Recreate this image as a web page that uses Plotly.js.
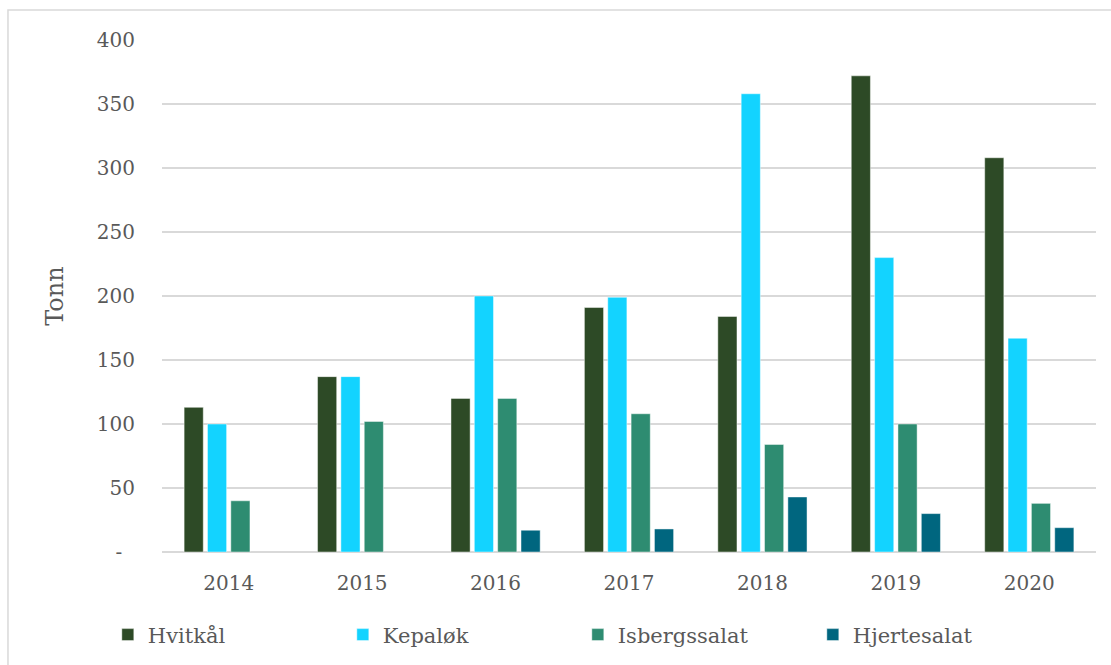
<!DOCTYPE html>
<html>
<head>
<meta charset="utf-8">
<script src="https://cdn.plot.ly/plotly-3.0.1.min.js"></script>
<style>
  html, body { margin: 0; padding: 0; background: #ffffff; }
  #chart { width: 1111px; height: 665px; }
</style>
</head>
<body>
<div id="chart"></div>
<script>
const years = ["2014", "2015", "2016", "2017", "2018", "2019", "2020"];
const hvitkal = [113, 137, 120, 191, 184, 372, 308];
const kepalok = [100, 137, 200, 199, 358, 230, 167];
const isbergssalat = [40, 102, 120, 108, 84, 100, 38];
const hjertesalat = [null, null, 17, 18, 43, 30, 19];
const seriesNames = ["Hvitkål", "Kepaløk", "Isbergssalat", "Hjertesalat"];
const seriesColors = ["#2d4a26", "#13d3ff", "#2e8c71", "#00667f"];
const yTickVals = [0, 50, 100, 150, 200, 250, 300, 350, 400];
const yTickText = ["-\u00a0\u00a0", "50", "100", "150", "200", "250", "300", "350", "400"];

const FONT = "DejaVu Serif, Georgia, serif";
const TXT = "#595959";

const seriesData = [hvitkal, kepalok, isbergssalat, hjertesalat];
const traces = seriesData.map((vals, i) => ({
  type: "bar",
  name: seriesNames[i],
  x: years,
  y: vals,
  marker: { color: seriesColors[i], line: { color: "rgba(255,255,255,0.45)", width: 1 } },
  hoverinfo: "x+y+name"
}));

const layout = {
  width: 1111,
  height: 665,
  margin: { l: 162, r: 15, t: 40, b: 113, autoexpand: false },
  paper_bgcolor: "#ffffff",
  plot_bgcolor: "#ffffff",
  font: { family: FONT, color: TXT, size: 20 },
  barmode: "group",
  bargap: 0.3,
  bargroupgap: 0.18,
  showlegend: true,
  legend: {
    orientation: "h",
    x: -0.058, xanchor: "left",
    y: -0.122, yanchor: "top",
    entrywidth: 190, entrywidthmode: "pixels",
    font: { family: FONT, size: 21, color: TXT },
    itemclick: false
  },
  xaxis: {
    type: "category",
    showgrid: false,
    showline: false,
    zeroline: false,
    ticks: "",
    ticklabelstandoff: 17,
    tickfont: { family: FONT, size: 20, color: TXT }
  },
  yaxis: {
    range: [0, 400],
    tickmode: "array",
    tickvals: yTickVals,
    ticktext: yTickText,
    showgrid: true,
    gridcolor: "#d9d9d9",
    gridwidth: 1.5,
    zeroline: true,
    zerolinecolor: "#d9d9d9",
    zerolinewidth: 1.5,
    showline: false,
    ticks: "",
    ticklabelstandoff: 26,
    tickfont: { family: FONT, size: 20, color: TXT },
    title: { text: "Tonn", font: { family: FONT, size: 24, color: TXT }, standoff: 26 }
  },
  shapes: [{
    type: "rect", xref: "paper", yref: "paper",
    x0: -0.1649, x1: 1.05, y0: -0.25, y1: 1.0586,
    line: { color: "#d9d9d9", width: 1.5 },
    fillcolor: "rgba(0,0,0,0)",
    layer: "below"
  }]
};

Plotly.newPlot("chart", traces, layout, { displayModeBar: false, staticPlot: true });
</script>
</body>
</html>
